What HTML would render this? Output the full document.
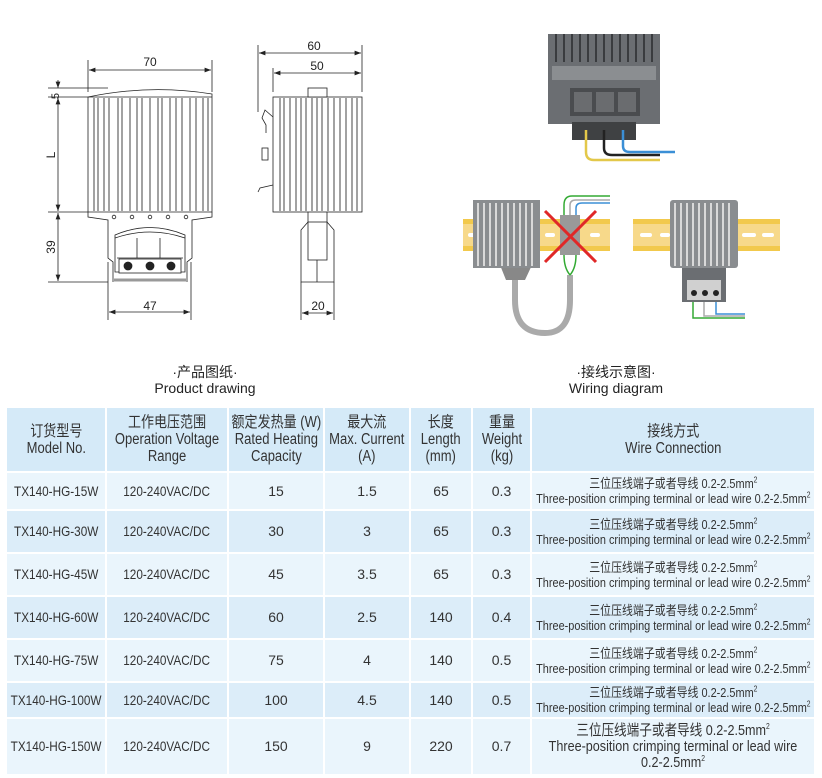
<!DOCTYPE html>
<html><head><meta charset="utf-8">
<style>
body{margin:0;width:822px;height:778px;background:#fff;position:relative;overflow:hidden;font-family:"Liberation Sans","Noto Sans CJK SC",sans-serif;color:#333}
.cap{position:absolute;text-align:center;font-size:14px;line-height:16px;color:#222}
table{position:absolute;left:5px;top:406px;width:811px;border-collapse:separate;border-spacing:2px;table-layout:fixed}
td{text-align:center;font-size:14px;line-height:15px;padding:0;overflow:visible;white-space:nowrap}
.h td{background:#d5eaf8;height:63px;font-size:15.5px;line-height:17px}
.o td{background:#eaf5fc}
.e td{background:#dcedf9}
.c{display:inline-block;transform:scaleX(.84);margin:0 -80px}
.w{font-size:13px;line-height:15px}
sup{font-size:8px;line-height:0}
</style></head><body>
<svg width="822" height="400" style="position:absolute;left:0;top:0" xmlns="http://www.w3.org/2000/svg" font-family="Liberation Sans, sans-serif" font-size="12" fill="#222">
<defs><marker id="a" markerWidth="8" markerHeight="6" refX="8" refY="3" orient="auto-start-reverse"><path d="M0,0L8,3L0,6z" fill="#222"/></marker></defs>
<g stroke="#222" stroke-width="0.8" fill="none">
<line x1="88" y1="60" x2="88" y2="92"/><line x1="212" y1="60" x2="212" y2="92"/>
<line x1="89" y1="70" x2="211" y2="70" marker-start="url(#a)" marker-end="url(#a)"/>
<line x1="48" y1="88" x2="108" y2="88"/><line x1="48" y1="97" x2="88" y2="97"/>
<line x1="58" y1="80" x2="58" y2="88" marker-end="url(#a)"/>
<line x1="58" y1="98" x2="58" y2="211" marker-start="url(#a)" marker-end="url(#a)"/>
<line x1="48" y1="212" x2="88" y2="212"/>
<line x1="58" y1="213" x2="58" y2="281" marker-start="url(#a)" marker-end="url(#a)"/>
<line x1="48" y1="282" x2="108" y2="282"/>
<line x1="108" y1="262" x2="108" y2="320"/><line x1="191" y1="262" x2="191" y2="320"/>
<line x1="109" y1="312" x2="190" y2="312" marker-start="url(#a)" marker-end="url(#a)"/>
<path d="M88,97 Q150,84 212,94 L212,212 L88,212 Z" fill="#fff"/>
<line x1="88" y1="97" x2="212" y2="97"/>
<path d="M88,212 L88,217 L108,220 L108,258 L113,262 L113,282 M212,212 L212,217 L192,220 L192,258 L187,262 L187,282"/>
<path d="M115,235 Q150,220 185,235 L185,272 L115,272 Z"/>
<path d="M115,238 Q150,226 185,238"/>
<line x1="117" y1="258" x2="183" y2="258"/>
<line x1="137" y1="238" x2="137" y2="258"/><line x1="160" y1="238" x2="160" y2="258"/>
<rect x="119" y="259" width="62" height="14" fill="#fff"/>
<line x1="114" y1="280" x2="186" y2="280" stroke-width="3" stroke="#999"/>
<circle cx="114" cy="217" r="1.8"/><circle cx="132" cy="217" r="1.8"/><circle cx="150" cy="217" r="1.8"/><circle cx="168" cy="217" r="1.8"/><circle cx="186" cy="217" r="1.8"/>
<circle cx="128" cy="266" r="4" fill="#222"/><circle cx="150" cy="266" r="4" fill="#222"/><circle cx="171" cy="266" r="4" fill="#222"/>
<line x1="258" y1="45" x2="258" y2="112"/><line x1="362" y1="45" x2="362" y2="92"/><line x1="273" y1="68" x2="273" y2="92"/>
<line x1="259" y1="53" x2="361" y2="53" marker-start="url(#a)" marker-end="url(#a)"/>
<line x1="274" y1="73" x2="361" y2="73" marker-start="url(#a)" marker-end="url(#a)"/>
<line x1="301" y1="282" x2="301" y2="320"/><line x1="334" y1="282" x2="334" y2="320"/>
<line x1="302" y1="313" x2="333" y2="313" marker-start="url(#a)" marker-end="url(#a)"/>
<rect x="273" y="97" width="89" height="115" fill="#fff"/>
<rect x="308" y="88" width="19" height="9" fill="#fff"/>
<path d="M273,117 L265,110 L262,118 L266,125 L266,133 M273,185 L260,188 L258,192"/>
<rect x="262" y="148" width="6" height="12"/>
<path d="M308,212 L308,222 L301,230 L301,282 L334,282 L334,230 L327,222 L327,212"/>
<rect x="308" y="222" width="19" height="38"/>
<line x1="317" y1="260" x2="317" y2="282"/>
</g>
<g stroke="#444" stroke-width="1">
<path d="M94,98V211M98,98V211M104,98V211M109,98V211M118,98V211M122,98V211M130,98V211M137,98V211M142,98V211M150,98V211M158,98V211M162,98V211M170,98V211M176,98V211M182,98V211M190,98V211M196,98V211M203,98V211M208,98V211"/>
<path d="M280,98V211M284,98V211M290,98V211M296,98V211M301,98V211M306,98V211M312,98V211M317,98V211M322,98V211M328,98V211M334,98V211M340,98V211M346,98V211M352,98V211M357,98V211"/>
</g>
<text x="150" y="66" text-anchor="middle">70</text>
<text x="52" y="97" transform="rotate(-90 55 93)" text-anchor="middle" font-size="11">5</text>
<text x="52" y="158" transform="rotate(-90 52 155)" text-anchor="middle">L</text>
<text x="52" y="250" transform="rotate(-90 52 247)" text-anchor="middle">39</text>
<text x="150" y="310" text-anchor="middle">47</text>
<text x="314" y="50" text-anchor="middle">60</text>
<text x="317" y="70" text-anchor="middle">50</text>
<text x="318" y="310" text-anchor="middle">20</text>
<rect x="548" y="34" width="112" height="90" fill="#6b6e72"/>
<g stroke="#3a3c3f" stroke-width="2"><path d="M556,34V62M564,34V62M572,34V62M580,34V62M588,34V62M596,34V62M604,34V62M612,34V62M620,34V62M628,34V62M636,34V62M644,34V62M652,34V62"/></g>
<rect x="552" y="66" width="104" height="14" fill="#8b8e91"/>
<rect x="570" y="88" width="70" height="28" fill="#4a4c4f"/>
<rect x="574" y="92" width="18" height="20" fill="#6a6c6f"/><rect x="596" y="92" width="18" height="20" fill="#6a6c6f"/><rect x="618" y="92" width="18" height="20" fill="#6a6c6f"/>
<rect x="572" y="122" width="64" height="18" fill="#3f4143"/>
<g fill="none" stroke-width="2.5"><path d="M586,130V152Q586,160 594,160H660" stroke="#e3c84a"/><path d="M604,130V148Q604,155 612,155H660" stroke="#222"/><path d="M623,130V146Q623,152 630,152H675" stroke="#3b8fd6"/></g>
<rect x="463" y="219" width="147" height="32" fill="#f2c94c"/><rect x="463" y="224" width="147" height="22" fill="#f7d98a"/>
<g fill="#fff"><rect x="468" y="233" width="10" height="4" rx="2"/><rect x="545" y="233" width="10" height="4" rx="2"/><rect x="590" y="233" width="10" height="4" rx="2"/></g>
<path d="M515,275V300Q515,333 545,333Q570,333 570,300V275" fill="none" stroke="#aaa" stroke-width="6"/>
<path d="M500,265L506,280H525L532,265Z" fill="#888"/>
<rect x="473" y="200" width="67" height="68" fill="#8a8d90"/>
<g stroke="#d9d9d9" stroke-width="2"><path d="M478,203V266M484,203V266M490,203V266M496,203V266M502,203V266M508,203V266M514,203V266M520,203V266M526,203V266M532,203V266"/></g>
<rect x="560" y="215" width="20" height="40" fill="#999"/>
<g fill="none" stroke-width="1.5"><path d="M564,215V205Q564,196 572,196H610" stroke="#3a3"/><path d="M570,215V205Q570,200 576,200H610" stroke="#aaa"/><path d="M576,215V208Q576,203 582,203H610" stroke="#3b8fd6"/><path d="M564,255Q564,268 570,275M576,255Q576,268 570,275" stroke="#3a3"/></g>
<path d="M545,211L596,262M596,211L545,262" stroke="#e02828" stroke-width="3"/>
<rect x="633" y="219" width="147" height="32" fill="#f2c94c"/><rect x="633" y="224" width="147" height="22" fill="#f7d98a"/>
<g fill="#fff"><rect x="640" y="233" width="12" height="4" rx="2"/><rect x="660" y="233" width="10" height="4" rx="2"/><rect x="742" y="233" width="14" height="4" rx="2"/><rect x="762" y="233" width="12" height="4" rx="2"/></g>
<rect x="670" y="200" width="68" height="68" rx="3" fill="#8a8d90"/>
<g stroke="#d9d9d9" stroke-width="2"><path d="M675,203V266M681,203V266M687,203V266M693,203V266M699,203V266M705,203V266M711,203V266M717,203V266M723,203V266M729,203V266"/></g>
<rect x="682" y="268" width="44" height="34" fill="#6b6e72"/><rect x="687" y="280" width="34" height="20" fill="#d0d0d0"/>
<circle cx="694" cy="293" r="3" fill="#222"/><circle cx="705" cy="293" r="3" fill="#222"/><circle cx="716" cy="293" r="3" fill="#222"/>
<g fill="none" stroke-width="1.5"><path d="M693,302V318H745" stroke="#3a3"/><path d="M704,302V316H745" stroke="#aaa"/><path d="M716,302V314H745" stroke="#3b8fd6"/></g>
</svg>
<div class="cap" style="left:105px;top:364px;width:200px">·产品图纸·<br>Product drawing</div>
<div class="cap" style="left:516px;top:364px;width:200px">·接线示意图·<br>Wiring diagram</div>
<table>
<colgroup><col style="width:98px"><col style="width:120px"><col style="width:94px"><col style="width:84px"><col style="width:60px"><col style="width:57px"><col style="width:282px"></colgroup>
<tr class="h"><td><span class="c">订货型号<br>Model No.</span></td><td><span class="c">工作电压范围<br>Operation Voltage<br>Range</span></td><td><span class="c">额定发热量 (W)<br>Rated Heating<br>Capacity</span></td><td><span class="c">最大流<br>Max. Current<br>(A)</span></td><td><span class="c">长度<br>Length<br>(mm)</span></td><td><span class="c">重量<br>Weight<br>(kg)</span></td><td><span class="c">接线方式<br>Wire Connection</span></td></tr>
<tr class="o" style="height:36px"><td><span class="c">TX140-HG-15W</span></td><td><span class="c">120-240VAC/DC</span></td><td>15</td><td>1.5</td><td>65</td><td>0.3</td><td class="w"><span class="c">三位压线端子或者导线 0.2-2.5mm<sup>2</sup><br>Three-position crimping terminal or lead wire 0.2-2.5mm<sup>2</sup></span></td></tr>
<tr class="e" style="height:41px"><td><span class="c">TX140-HG-30W</span></td><td><span class="c">120-240VAC/DC</span></td><td>30</td><td>3</td><td>65</td><td>0.3</td><td class="w"><span class="c">三位压线端子或者导线 0.2-2.5mm<sup>2</sup><br>Three-position crimping terminal or lead wire 0.2-2.5mm<sup>2</sup></span></td></tr>
<tr class="o" style="height:41px"><td><span class="c">TX140-HG-45W</span></td><td><span class="c">120-240VAC/DC</span></td><td>45</td><td>3.5</td><td>65</td><td>0.3</td><td class="w"><span class="c">三位压线端子或者导线 0.2-2.5mm<sup>2</sup><br>Three-position crimping terminal or lead wire 0.2-2.5mm<sup>2</sup></span></td></tr>
<tr class="e" style="height:41px"><td><span class="c">TX140-HG-60W</span></td><td><span class="c">120-240VAC/DC</span></td><td>60</td><td>2.5</td><td>140</td><td>0.4</td><td class="w"><span class="c">三位压线端子或者导线 0.2-2.5mm<sup>2</sup><br>Three-position crimping terminal or lead wire 0.2-2.5mm<sup>2</sup></span></td></tr>
<tr class="o" style="height:41px"><td><span class="c">TX140-HG-75W</span></td><td><span class="c">120-240VAC/DC</span></td><td>75</td><td>4</td><td>140</td><td>0.5</td><td class="w"><span class="c">三位压线端子或者导线 0.2-2.5mm<sup>2</sup><br>Three-position crimping terminal or lead wire 0.2-2.5mm<sup>2</sup></span></td></tr>
<tr class="e" style="height:34px"><td><span class="c">TX140-HG-100W</span></td><td><span class="c">120-240VAC/DC</span></td><td>100</td><td>4.5</td><td>140</td><td>0.5</td><td class="w"><span class="c">三位压线端子或者导线 0.2-2.5mm<sup>2</sup><br>Three-position crimping terminal or lead wire 0.2-2.5mm<sup>2</sup></span></td></tr>
<tr class="o" style="height:55px"><td><span class="c">TX140-HG-150W</span></td><td><span class="c">120-240VAC/DC</span></td><td>150</td><td>9</td><td>220</td><td>0.7</td><td style="font-size:15px;line-height:16px"><span class="c">三位压线端子或者导线 0.2-2.5mm<sup>2</sup><br>Three-position crimping terminal or lead wire<br>0.2-2.5mm<sup>2</sup></span></td></tr>
</table>
</body></html>
